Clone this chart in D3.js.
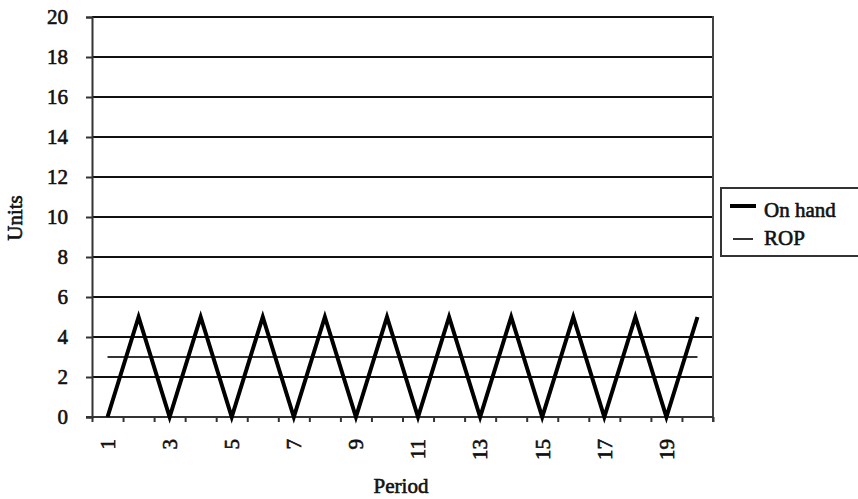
<!DOCTYPE html>
<html>
<head>
<meta charset="utf-8">
<script src="https://cdn.jsdelivr.net/npm/d3@7"></script>
<style>
  html, body { margin: 0; padding: 0; background: #fff; }
  svg { display: block; }
  text { font-family: "Liberation Serif", "Times New Roman", serif; fill: #111; stroke: #111; stroke-width: 0.6px; }
</style>
</head>
<body>
<svg id="chart" width="858" height="499"></svg>
<script>
// Inventory simulation: on-hand units per period and the reorder point
const periods = d3.range(1, 21);
const onHand = [0, 5, 0, 5, 0, 5, 0, 5, 0, 5, 0, 5, 0, 5, 0, 5, 0, 5, 0, 5];
const rop = [3, 3, 3, 3, 3, 3, 3, 3, 3, 3, 3, 3, 3, 3, 3, 3, 3, 3, 3, 3];
const yTicks = [0, 2, 4, 6, 8, 10, 12, 14, 16, 18, 20];
const xLabels = [1, 3, 5, 7, 9, 11, 13, 15, 17, 19];
const seriesNames = ["On hand", "ROP"];

const svg = d3.select("#chart");
const plotLeft = 92, plotRight = 713, plotTop = 17, plotBottom = 417;
const fontSize = "21px";

// Category axis: each period occupies one slot, points at slot centres
const x = d3.scaleLinear().domain([0.5, 20.5]).range([plotLeft, plotRight]);
const y = d3.scaleLinear().domain([0, 20]).range([plotBottom, plotTop]);

// Horizontal gridlines
svg.append("g")
  .selectAll("line")
  .data(yTicks.filter(d => d > 0))
  .join("line")
  .attr("x1", plotLeft).attr("x2", plotRight)
  .attr("y1", d => y(d)).attr("y2", d => y(d))
  .attr("stroke", "#111").attr("stroke-width", 2);

// Right border of the plot area
svg.append("line")
  .attr("x1", plotRight).attr("x2", plotRight)
  .attr("y1", plotTop - 1).attr("y2", plotBottom + 5)
  .attr("stroke", "#444").attr("stroke-width", 2);

// Y axis
const yAxis = svg.append("g")
  .attr("transform", `translate(${plotLeft},0)`)
  .call(d3.axisLeft(y).tickValues(yTicks).tickSize(6).tickPadding(18).tickFormat(d3.format("d")));
yAxis.select(".domain").attr("stroke", "#333").attr("stroke-width", 2);
yAxis.selectAll(".tick line").attr("stroke", "#333").attr("stroke-width", 2);
yAxis.selectAll(".tick text")
  .style("font-family", "'Liberation Serif', serif")
  .style("font-size", fontSize).attr("fill", "#111");

// X axis: ticks on slot boundaries
const xAxis = svg.append("g")
  .attr("transform", `translate(0,${plotBottom})`)
  .call(d3.axisBottom(x).tickValues(d3.range(0.5, 21, 1)).tickSize(5).tickSizeOuter(0).tickFormat(""));
xAxis.select(".domain").attr("stroke", "#333").attr("stroke-width", 2)
  .attr("d", `M${plotLeft - 6},0H${plotRight}`);
xAxis.selectAll(".tick line").attr("stroke", "#333").attr("stroke-width", 2);

// X labels: odd periods, rotated
svg.append("g")
  .selectAll("text")
  .data(xLabels)
  .join("text")
  .attr("transform", d => `translate(${x(d)},439) rotate(-90)`)
  .attr("text-anchor", "end")
  .attr("dy", "0.35em")
  .style("font-size", fontSize)
  .text(d => d);

// Reorder point line
const line = d3.line().x((d, i) => x(periods[i])).y(d => y(d));
svg.append("path")
  .datum(rop)
  .attr("d", line)
  .attr("fill", "none").attr("stroke", "#333").attr("stroke-width", 2);

// On-hand inventory line
svg.append("path")
  .datum(onHand)
  .attr("d", line)
  .attr("fill", "none").attr("stroke", "#000").attr("stroke-width", 4)
  .attr("stroke-linejoin", "miter");

// Axis titles
svg.append("text")
  .attr("transform", "translate(22,218) rotate(-90)")
  .attr("text-anchor", "middle")
  .style("font-size", fontSize)
  .text("Units");
svg.append("text")
  .attr("x", 401).attr("y", 493)
  .attr("text-anchor", "middle")
  .style("font-size", fontSize)
  .text("Period");

// Legend
const legend = svg.append("g");
legend.append("rect")
  .attr("x", 721).attr("y", 188).attr("width", 150).attr("height", 68)
  .attr("fill", "#fff").attr("stroke", "#333").attr("stroke-width", 2);
const legendRows = [
  { name: seriesNames[0], x1: 730, x2: 756, y: 206, w: 4 },
  { name: seriesNames[1], x1: 733, x2: 753, y: 239, w: 2 }
];
legend.selectAll("line.key")
  .data(legendRows)
  .join("line")
  .attr("class", "key")
  .attr("x1", d => d.x1).attr("x2", d => d.x2)
  .attr("y1", d => d.y).attr("y2", d => d.y)
  .attr("stroke", (d, i) => i === 0 ? "#000" : "#333")
  .attr("stroke-width", d => d.w);
legend.selectAll("text")
  .data(legendRows)
  .join("text")
  .attr("x", 764).attr("y", (d, i) => i === 0 ? 217 : 245)
  .style("font-size", fontSize)
  .text(d => d.name);
</script>
</body>
</html>
